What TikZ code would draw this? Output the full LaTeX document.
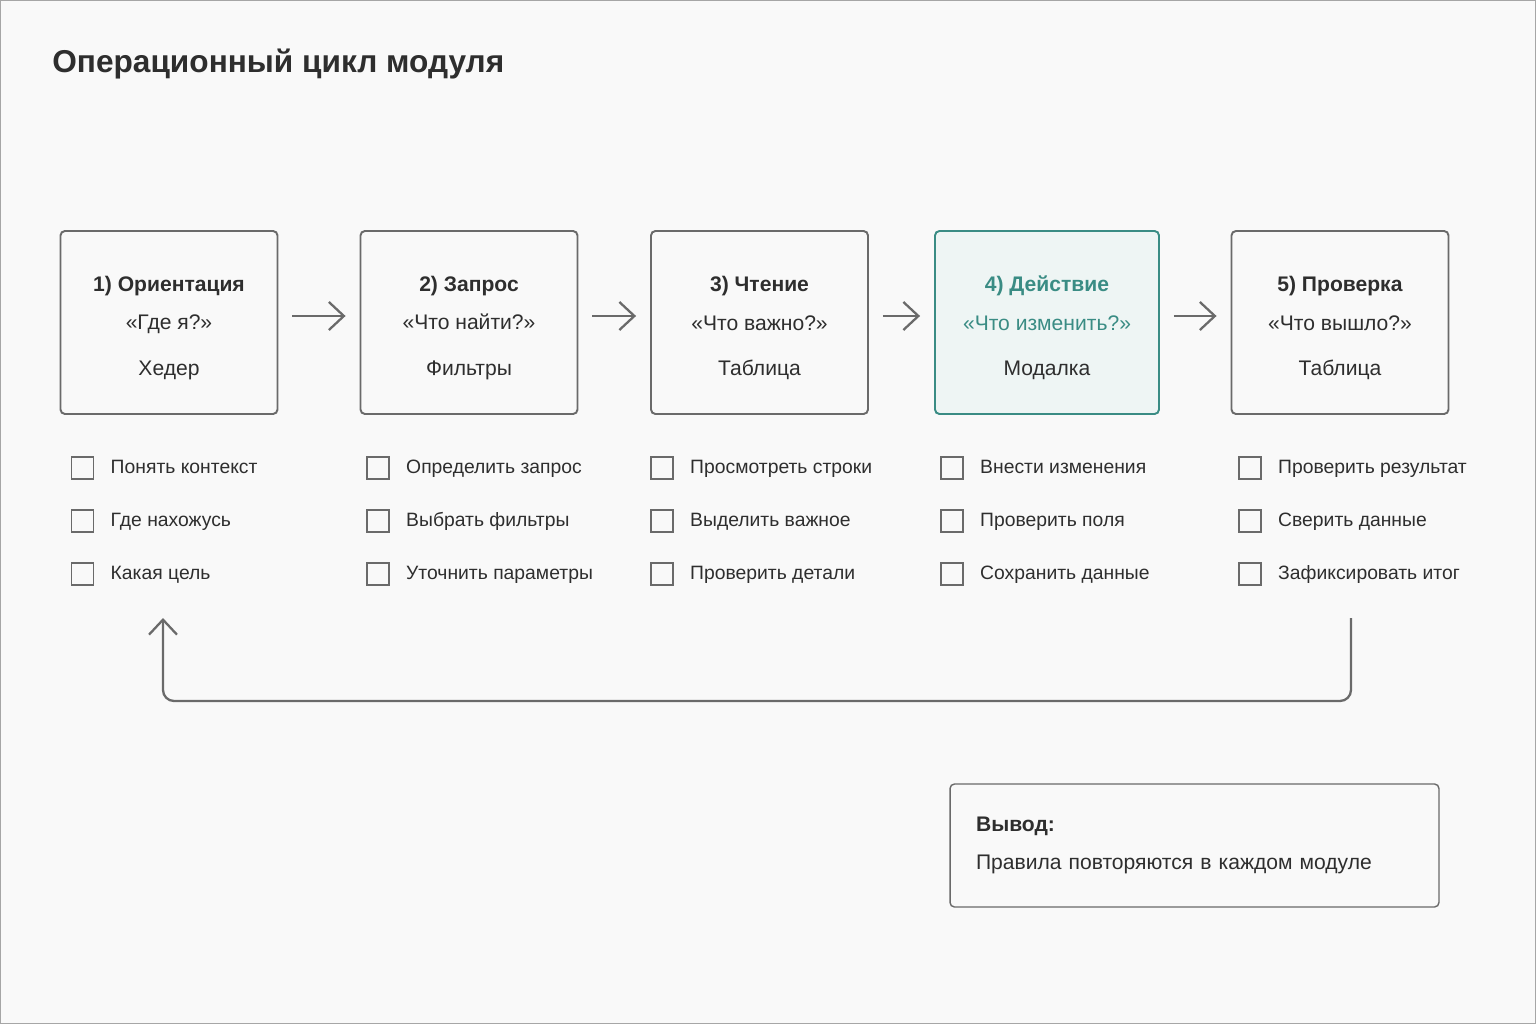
\documentclass[tikz,border=0pt]{standalone}
\usepackage{fontspec}
\setmainfont{Liberation Sans}
\usepackage{xcolor}
\usetikzlibrary{arrows.meta,positioning}
\definecolor{ink}{HTML}{2E2E2E}
\definecolor{frame}{HTML}{6A6A6A}
\definecolor{paper}{HTML}{F9F9F9}
\definecolor{teal}{HTML}{3A8C84}
\definecolor{tealbg}{HTML}{EEF5F4}
\newcommand{\toppad}{\rule{0pt}{15pt}}
\tikzset{
  stage/.style={draw=frame,line width=1.1pt,rounded corners=2.5pt,fill=paper,minimum width=4.34cm,minimum height=3.66cm,align=center,text=ink,font=\fontsize{12}{22}\selectfont},
  focus/.style={stage,draw=teal,fill=tealbg,minimum width=4.48cm},
  tick/.style={draw=frame,line width=1pt,minimum size=0.44cm,inner sep=0pt},
  item/.style={inner sep=0pt,anchor=west,text height=8pt,text depth=2.2pt,text=ink,font=\fontsize{11}{13}\selectfont},
  flow/.style={draw=frame,line width=1.3pt,-{Straight Barb[length=0.3cm,width=0.56cm,line width=1.3pt]}}
}
\begin{document}
\begin{tikzpicture}[x=0.02cm,y=-0.02cm]
\draw[gray!70,line width=0.02cm,fill=paper] (0.5,0.5) rectangle (1535.5,1023.5);
\node[anchor=west,inner sep=0pt,text=ink,font=\fontsize{18}{20}\selectfont\bfseries] (title) at (52,64) {Операционный цикл модуля};
% stages
\node[stage] (s1) at (169,322.5) {\toppad\textbf{1) Ориентация}\\«Где я?»\\[4pt]Хедер};
\node[stage] (s2) at (469,322.5) {\toppad\textbf{2) Запрос}\\«Что найти?»\\[4pt]Фильтры};
\node[stage] (s3) at (759.5,322.5) {\toppad\textbf{3) Чтение}\\«Что важно?»\\[4pt]Таблица};
\node[focus] (s4) at (1047,322.5) {\toppad\textcolor{teal}{\textbf{4) Действие}}\\\textcolor{teal}{«Что изменить?»}\\[4pt]Модалка};
\node[stage] (s5) at (1340,322.5) {\toppad\textbf{5) Проверка}\\«Что вышло?»\\[4pt]Таблица};
\foreach \a/\b in {s1/s2,s2/s3,s3/s4,s4/s5}
  \draw[flow,shorten <=0.28cm,shorten >=0.28cm] ([yshift=0.13cm]\a.east) -- ([yshift=0.13cm]\b.west);
% checklists
\foreach \c/\x/\p/\q/\r in {1/82.5/Понять контекст/Где нахожусь/Какая цель,
  2/378/Определить запрос/Выбрать фильтры/Уточнить параметры,
  3/662/Просмотреть строки/Выделить важное/Проверить детали,
  4/952/Внести изменения/Проверить поля/Сохранить данные,
  5/1250/Проверить результат/Сверить данные/Зафиксировать итог}{
  \node[tick] (k\c a) at (\x,468) {};
  \node[tick] (k\c b) at (\x,521) {};
  \node[tick] (k\c c) at (\x,574) {};
  \node[item,right=0.32cm of k\c a] (t\c a) {\p};
  \node[item,right=0.32cm of k\c b] (t\c b) {\q};
  \node[item,right=0.32cm of k\c c] (t\c c) {\r};
}
% loop back
\coordinate (loopout) at (1351,618);
\coordinate (loopin) at (163,618);
\draw[flow,rounded corners=0.22cm] (loopout) -- ++(0,83) -| (loopin);
% conclusion
\node[draw=frame,line width=0.8pt,rounded corners=2.5pt,fill=paper,minimum width=9.78cm,minimum height=2.46cm,inner xsep=0.52cm,text width=8.74cm,align=left,text=ink,font=\fontsize{12}{22}\selectfont] (note) at (1194.5,845.5) {\textbf{Вывод:}\\Правила повторяются в каждом модуле};
\end{tikzpicture}
\end{document}
